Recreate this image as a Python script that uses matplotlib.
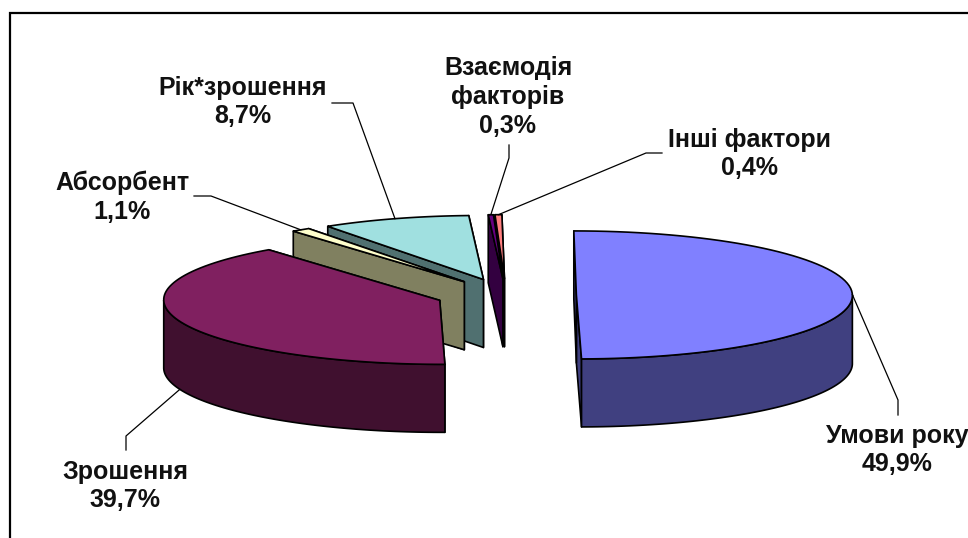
# -*- coding=utf-8 -*-
import numpy as np
from matplotlib import pyplot as plt
from matplotlib.patches import Polygon, Rectangle

plt.rcParams['font.family'] = ['Liberation Sans', 'DejaVu Sans']

# data
names = ['Умови\u00a0року', 'Зрошення', 'Абсорбент', 'Рік*зрошення', 'Взаємодія\nфакторів', 'Інші фактори']
values = [49.9, 39.7, 1.1, 8.7, 0.3, 0.4]

top_colors = ['#8080ff', '#802060', '#ffffcc', '#a0e0e0', '#660080', '#ff8080']
side_colors = ['#404080', '#40102f', '#808060', '#507070', '#330040', '#804040']

# label centres and leader elbows, in pixels
label_pos = [(897, 450), (125, 486), (122, 197), (243, 102), (508, 97), (749, 154)]
leader_mid = [[(898, 400), (898, 415)], [(126, 436), (126, 450)], [(211, 196), (194, 196)],
              [(353, 103), (332, 103)], [(509, 158), (509, 145)], [(646, 153), (662, 153)]]

# pie geometry
cx, cy = 506, 295
rx, ry = 276, 64
depth = 68
explode = 0.255
shear = 0.04


def project(px, py):
    # small lean of the pie, the original has a bit of perspective
    return px + shear * (py - cy), py


def outer(ax0, ay0, theta):
    return project(ax0 + rx * np.sin(theta), ay0 - ry * np.cos(theta))


def draw_slice(ax, a0, a1, top_c, side_c):
    mid = (a0 + a1) / 2
    ax0 = cx + explode * rx * np.sin(mid)
    ay0 = cy - explode * ry * np.cos(mid)
    ap = project(ax0, ay0)

    # radial walls, the one at the start of the slice is the one in front
    for a in (a1, a0):
        p = outer(ax0, ay0, a)
        ax.add_patch(Polygon([ap, p, (p[0], p[1] + depth), (ap[0], ap[1] + depth)],
                             fc=side_c, ec='black', lw=1.2, joinstyle='round'))

    # outer wall, only the front part of the arc
    lo, hi = max(a0, np.pi / 2), min(a1, 3 * np.pi / 2)
    if hi > lo:
        t = np.linspace(lo, hi, 80)
        xs, ys = outer(ax0, ay0, t)
        pts = list(zip(xs, ys)) + list(zip(xs[::-1], ys[::-1] + depth))
        ax.add_patch(Polygon(pts, fc=side_c, ec='black', lw=1.2, joinstyle='round'))

    # top
    t = np.linspace(a0, a1, 80)
    xs, ys = outer(ax0, ay0, t)
    ax.add_patch(Polygon([ap] + list(zip(xs, ys)), fc=top_c, ec='black', lw=1.2, joinstyle='round'))

    # where the leader starts
    p = outer(ax0, ay0, mid)
    if np.pi / 2 < mid < 3 * np.pi / 2:
        p = (p[0], p[1] + depth)
    return p


fig = plt.figure(figsize=(9.68, 5.38), dpi=100)
ax = fig.add_axes([0, 0, 1, 1])
ax.set_xlim(0, 968)
ax.set_ylim(538, 0)
ax.axis('off')

ax.add_patch(Rectangle((10, 13), 1000, 600, fc='white', ec='black', lw=1.6))

edges = np.cumsum([0] + values) / sum(values) * 2 * np.pi

# back slices first
starts = {}
for i in [5, 4, 3, 2, 1, 0]:
    starts[i] = draw_slice(ax, edges[i], edges[i + 1], top_colors[i], side_colors[i])

for i in range(len(values)):
    pts = [starts[i]] + leader_mid[i]
    ax.plot([p[0] for p in pts], [p[1] for p in pts], color='black', lw=0.9, zorder=5)
    txt = names[i] + '\n' + ('%.1f%%' % values[i]).replace('.', ',')
    ax.text(label_pos[i][0], label_pos[i][1], txt, ha='center', va='center', fontsize=18,
            fontweight='bold', color='#111111', linespacing=1.25, zorder=6)

fig.savefig('out.png', dpi=100)
